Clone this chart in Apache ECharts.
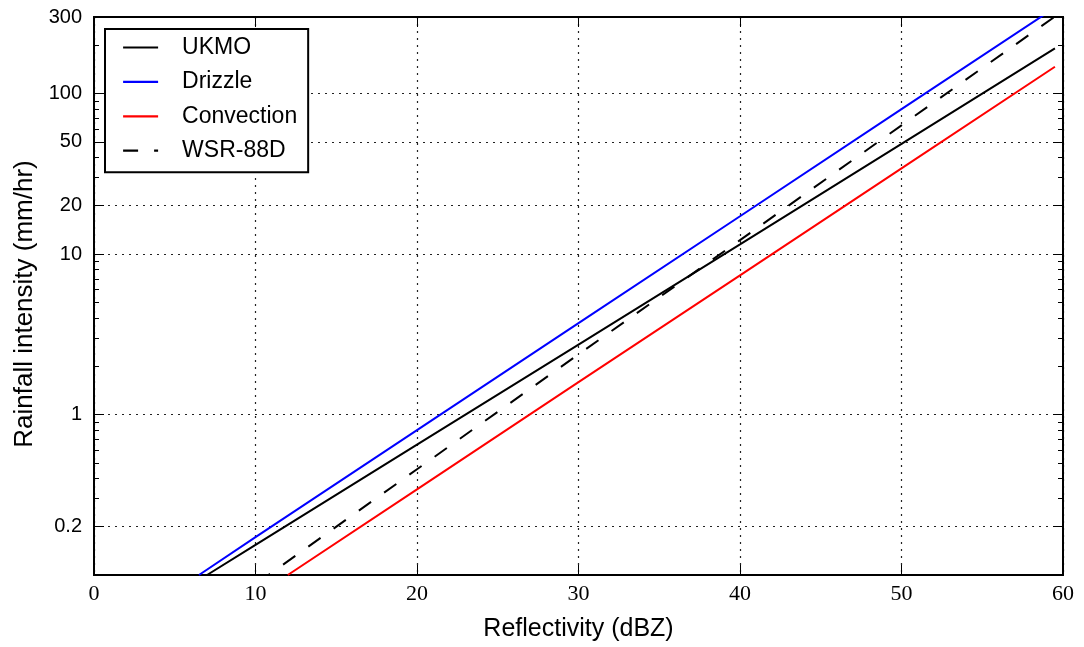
<!DOCTYPE html>
<html>
<head>
<meta charset="utf-8">
<script src="https://cdn.jsdelivr.net/npm/echarts@6/dist/echarts.min.js"></script>
<style>
html,body{margin:0;padding:0;background:#fff;}
#chart{width:1084px;height:647px;}
</style>
</head>
<body>
<div id="chart"></div>
<script>
// Values: [reflectivity dBZ, rainfall mm/hr]
const ukmo       = [[7.0, 0.1], [10, 0.154], [20, 0.65], [30, 2.73], [40, 11.5], [50, 48.6], [59.5, 191]];
const drizzle    = [[6.5, 0.1], [10, 0.172], [20, 0.80], [30, 3.71], [40, 17.2], [50, 80], [59.5, 343]];
const convection = [[12.0, 0.1], [20, 0.342], [30, 1.59], [40, 7.37], [50, 34.2], [59.5, 147]];
const wsr88d     = [[10.8, 0.1], [20, 0.456], [30, 2.37], [40, 12.2], [50, 63.4], [59.5, 302]];

const seriesNames = ['UKMO', 'Drizzle', 'Convection', 'WSR-88D'];
const yMajorTicks = [0.2, 1, 10, 20, 50, 100, 300];
const yMinorTicks = [0.3, 0.4, 0.5, 0.6, 0.7, 0.8, 0.9, 2, 3, 4, 5, 6, 7, 8, 9, 30, 40, 60, 70, 80, 90, 200];
const xMin = 0, xMax = 60, xStep = 10;
const yMin = 0.1, yMax = 300;

const chart = echarts.init(document.getElementById('chart'), null, {renderer: 'canvas'});

function yAxisDef(position, ticks, len, labels, grid) {
  return {
    type: 'log', logBase: 10, min: yMin, max: yMax, position: position, offset: 0,
    axisLine: {show: true, onZero: false, lineStyle: {color: '#000', width: 2}},
    axisTick: {show: true, inside: true, length: len, customValues: ticks, lineStyle: {color: '#000', width: 1}},
    axisLabel: labels ? {show: true, customValues: yMajorTicks, fontFamily: 'Liberation Sans', fontSize: 20, color: '#000', margin: 12} : {show: false},
    splitLine: grid ? {show: true, lineStyle: {color: '#222', width: 1.2, type: [2, 5]}} : {show: false},
    minorTick: {show: false}, minorSplitLine: {show: false}
  };
}

const option = {
  animation: false,
  backgroundColor: '#fff',
  grid: {left: 94, right: 21, top: 17, bottom: 71, containLabel: false},
  legend: {
    data: seriesNames,
    orient: 'vertical',
    left: 105, top: 29,
    padding: [7, 11, 10, 17],
    itemWidth: 35, itemHeight: 24, itemGap: 11.4,
    borderColor: '#000', borderWidth: 2, borderRadius: 0,
    backgroundColor: '#fff',
    textStyle: {fontFamily: 'Liberation Sans', fontSize: 23, color: '#000', padding: [0, 0, 0, 19]},
    itemStyle: {opacity: 0},
    lineStyle: {width: 2.2, dashOffset: 0},
    selectedMode: false
  },
  xAxis: [
    {
      type: 'value', min: xMin, max: xMax, interval: xStep, position: 'bottom',
      name: 'Reflectivity (dBZ)', nameLocation: 'middle', nameGap: 42,
      nameTextStyle: {fontFamily: 'Liberation Sans', fontSize: 25, color: '#000'},
      axisLine: {show: true, onZero: false, lineStyle: {color: '#000', width: 2}},
      axisTick: {show: true, inside: true, length: 10, lineStyle: {color: '#000', width: 1}},
      axisLabel: {show: true, fontFamily: 'Liberation Serif', fontSize: 22, color: '#000', margin: 8},
      splitLine: {show: true, lineStyle: {color: '#222', width: 1.2, type: [2, 5]}}
    },
    {
      type: 'value', min: xMin, max: xMax, interval: xStep, position: 'top',
      axisLine: {show: true, onZero: false, lineStyle: {color: '#000', width: 2}},
      axisTick: {show: true, inside: true, length: 10, lineStyle: {color: '#000', width: 1}},
      axisLabel: {show: false},
      splitLine: {show: false}
    }
  ],
  yAxis: [
    Object.assign(yAxisDef('left', yMajorTicks, 10, true, true), {
      name: 'Rainfall intensity (mm/hr)', nameLocation: 'middle', nameGap: 55,
      nameTextStyle: {fontFamily: 'Liberation Sans', fontSize: 26, color: '#000', padding: [0, 16, 0, 0]}
    }),
    yAxisDef('left', yMinorTicks, 5, false, false),
    yAxisDef('right', yMajorTicks, 10, false, false),
    yAxisDef('right', yMinorTicks, 5, false, false)
  ],
  series: [
    {name: 'UKMO', type: 'line', data: ukmo, symbol: 'none', clip: true, z: 3,
     lineStyle: {color: '#000000', width: 2}, itemStyle: {color: '#000000'}},
    {name: 'Drizzle', type: 'line', data: drizzle, symbol: 'none', clip: true, z: 3,
     lineStyle: {color: '#0000ff', width: 2}, itemStyle: {color: '#0000ff'}},
    {name: 'Convection', type: 'line', data: convection, symbol: 'none', clip: true, z: 3,
     lineStyle: {color: '#ff0000', width: 2}, itemStyle: {color: '#ff0000'}},
    {name: 'WSR-88D', type: 'line', data: wsr88d, symbol: 'none', clip: true, z: 3,
     lineStyle: {color: '#000000', width: 2, type: [15, 16], dashOffset: 13}, itemStyle: {color: '#000000'}}
  ]
};
chart.setOption(option);
</script>
</body>
</html>
